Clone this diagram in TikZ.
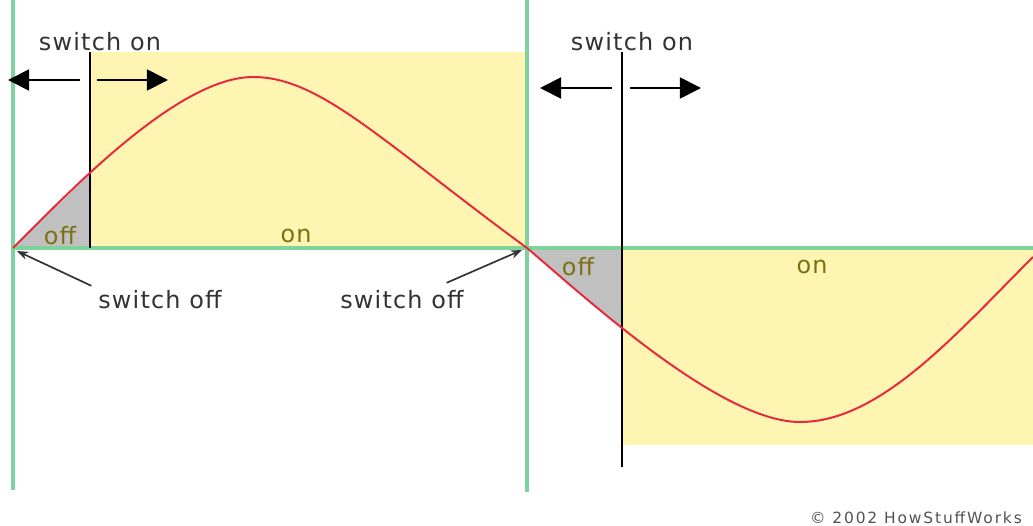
\documentclass[tikz,border=0pt]{standalone}
\usepackage{fontspec}
\setsansfont{DejaVu Sans}
\usetikzlibrary{arrows.meta,calc}
\definecolor{ink}{HTML}{333333}
\definecolor{axis}{HTML}{7DD39B}
\definecolor{wave}{HTML}{E8283C}
\definecolor{lamp}{HTML}{FFF5B3}
\definecolor{dark}{HTML}{C0C0C0}
\definecolor{olive}{HTML}{7D7012}

\begin{document}
\begin{tikzpicture}[x=0.025cm,y=-0.025cm,font=\sffamily,text=ink,
  lbl/.style={font=\sffamily\fontsize{17}{20}\selectfont\addfontfeatures{LetterSpace=5}},
  state/.style={lbl,text=olive},
  push/.style={-{Triangle[length=15pt,width=15pt]},line width=1.3pt},
  hint/.style={-{Stealth[length=8pt,width=6pt]},line width=1.2pt,ink}]
  \useasboundingbox (0,0) rectangle (1033,526);
  % shaded on/off areas
  \fill[lamp] (90,52) rectangle (527,248);
  \fill[lamp] (622,248) rectangle (1033,445);
  \fill[dark] (13,248) -- (90,174) -- (90,248) -- cycle;
  \fill[dark] (527,248) -- (622,328) -- (622,248) -- cycle;
  % axes
  \draw[axis,line width=2.6pt] (13,0) -- (13,490);
  \draw[axis,line width=2.6pt] (527,0) -- (527,492);
  \draw[axis,line width=2.6pt] (13,248) -- (1033,248);
  % switching instants
  \coordinate (z0) at (13,248);
  \coordinate (z1) at (527,248);
  \draw[black,line width=1.5pt] (90,52) -- (90,248);
  \draw[black,line width=1.5pt] (622,52) -- (622,467);
  % mains voltage
  \draw[wave,line width=1.4pt] (z0) .. controls (60,202) and (175,77) .. (253,77)
    .. controls (320,77) and (380,140) .. (z1)
    .. controls (585,297) and (720,422) .. (800,422)
    .. controls (880,422) and (955,335) .. (1033,257);

  \node[lbl] (onL) at (100,42) {switch on};
  \node[lbl] (onR) at (632,42) {switch on};
  \coordinate (aL) at (90,80);
  \coordinate (aR) at (622,88);
  \draw[push] ($(aL)+(-10,0)$) -- ($(aL)+(-82,0)$);
  \draw[push] ($(aL)+(7,0)$) -- ($(aL)+(78,0)$);
  \draw[push] ($(aR)+(-10,0)$) -- ($(aR)+(-82,0)$);
  \draw[push] ($(aR)+(8,0)$) -- ($(aR)+(79,0)$);

  \node[state] (offA) at (60,236) {off};
  \node[state] (onA) at (296,236) {on};
  \node[state] (offB) at (578,267) {off};
  \node[state] (onB) at (812,267) {on};

  \node[lbl] (offL) at (160,300) {switch off};
  \node[lbl] (offR) at (402,300) {switch off};
  \draw[hint] ($(offL.north west)+(-2,0)$) -- ($(z0)+(4,3)$);
  \draw[hint] ($(offR.north east)+(-22,-3)$) -- ($(z1)+(-5,2)$);

  \node[font=\sffamily\fontsize{11}{13}\selectfont\addfontfeatures{LetterSpace=12},text=ink!85] (copy) at (916,518) {\textcopyright{} 2002 HowStuffWorks};
\end{tikzpicture}
\end{document}
